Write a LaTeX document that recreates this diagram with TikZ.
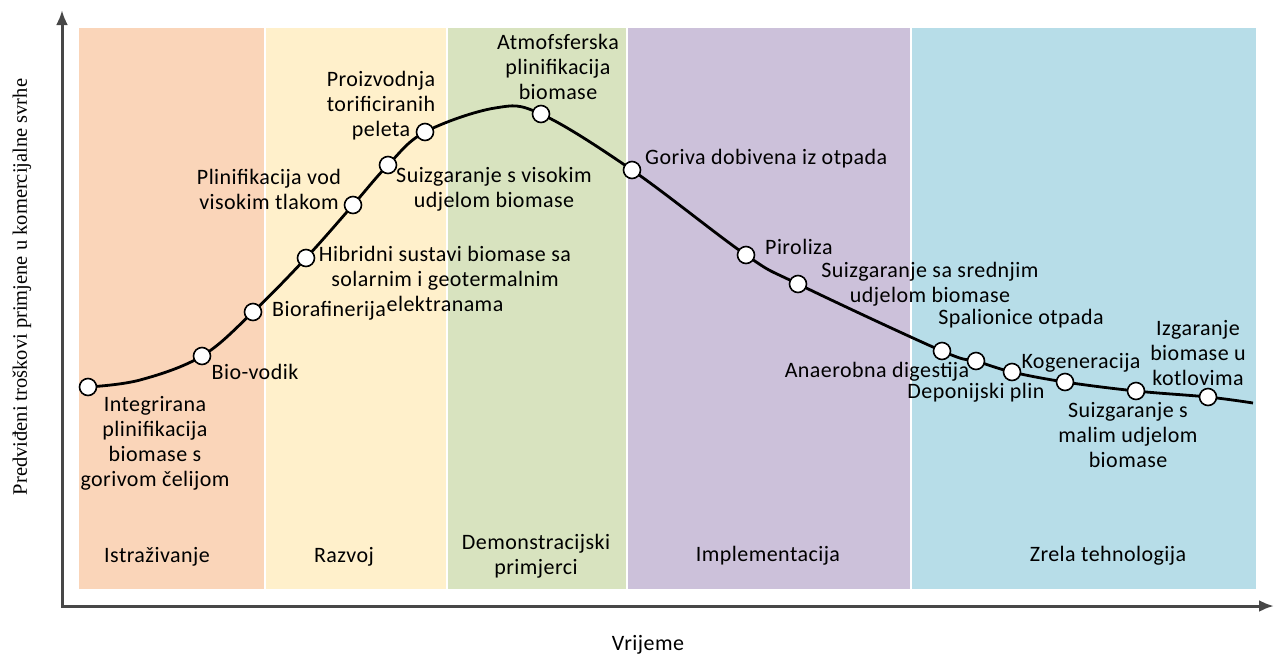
\documentclass[tikz,border=0pt]{standalone}
\usepackage{fontspec}
\setmainfont{Carlito}[LetterSpace=2]
\newfontfamily\axisfont{Liberation Serif}
\usepackage{tikz}
\usetikzlibrary{arrows.meta}

\definecolor{istrcol}{HTML}{FAD5B9}
\definecolor{razvcol}{HTML}{FFF0CB}
\definecolor{democol}{HTML}{D8E3BF}
\definecolor{implcol}{HTML}{CCC1DA}
\definecolor{zrelcol}{HTML}{B7DDE8}

\begin{document}
\begin{tikzpicture}[x=1pt,y=-1pt,
    lbl/.style={font=\fontsize{22}{25}\selectfont,align=center,inner sep=0pt},
    pt/.style={circle,draw,fill=white,line width=1.6pt,minimum size=17pt,inner sep=0pt},
    band/.style={draw=white,line width=2pt},
    curve/.style={line width=2.8pt},
    axis/.style={line width=3pt,draw=black!72,{Latex[length=15pt,width=12pt]}-{Latex[length=15pt,width=12pt]}}]

    \useasboundingbox (0,0) rectangle (1274,657);

    \filldraw[band,fill=istrcol] (78,27) rectangle (265,590);
    \filldraw[band,fill=razvcol] (265,27) rectangle (447,590);
    \filldraw[band,fill=democol] (447,27) rectangle (627,590);
    \filldraw[band,fill=implcol] (627,27) rectangle (911,590);
    \filldraw[band,fill=zrelcol] (911,27) rectangle (1257,590);

    \node[lbl] (istr) at (157,557) {Istraživanje};
    \node[lbl] (razv) at (344,557) {Razvoj};
    \node[lbl] (demo) at (536,556) {Demonstracijski\\primjerci};
    \node[lbl] (impl) at (768,556) {Implementacija};
    \node[lbl] (zrel) at (1108,556) {Zrela tehnologija};

    \coordinate (ytop) at (62,10);
    \coordinate (o) at (62,606);
    \coordinate (xend) at (1274,606);
    \draw[axis] (ytop) -- (o) -- (xend);

    \node[lbl] (vrij) at (648,645) {Vrijeme};
    \node[rotate=90,inner sep=0pt,font=\axisfont\fontsize{20.5}{22}\selectfont] (ylab) at (22,287)
        {Predviđeni troškovi primjene u komercijalne svrhe};

    \coordinate (c1) at (88,387);
    \coordinate (c2) at (202,356);
    \coordinate (c3) at (253,312);
    \coordinate (c4) at (306,258);
    \coordinate (c5) at (353,205);
    \coordinate (c6) at (388,165);
    \coordinate (c7) at (425,132);
    \coordinate (c8) at (541,114);
    \coordinate (c9) at (632,170);
    \coordinate (c10) at (746,255);
    \coordinate (c11) at (798,284);
    \coordinate (c12) at (942,351);
    \coordinate (c13) at (976,361);
    \coordinate (c14) at (1012,372);
    \coordinate (c15) at (1065,382);
    \coordinate (c16) at (1136,391);
    \coordinate (c17) at (1208,397);
    \coordinate (a1) at (140,380);
    \coordinate (top) at (495,108);
    \coordinate (cend) at (1253,403);

    \draw[curve] plot[smooth,tension=0.6] coordinates {(c1) (a1) (c2) (c3) (c4) (c5) (c6) (c7) (top) (c8)
        (c9) (c10) (c11) (c12) (c13) (c14) (c15) (c16) (c17) (cend)};

    \foreach \i in {1,...,17}
        \node[pt] (p\i) at (c\i) {};

    \node[lbl] (integr) at (155,443) {Integrirana\\plinifikacija\\biomase s\\gorivom čelijom};
    \node[lbl] (biovod) at (255,372) {Bio-vodik};
    \node[lbl,anchor=west] (biorafin) at (272,311) {Biorafinerija};
    \node[lbl] (hibrid) at (445,279) {Hibridni sustavi biomase sa\\solarnim i geotermalnim\\elektranama};
    \node[lbl] (plinvod) at (269,189) {Plinifikacija vod\\visokim tlakom};
    \node[lbl] (suizvis) at (494,189) {Suizgaranje s visokim\\udjelom biomase};
    \node[lbl] (proizv) at (381,106) {Proizvodnja\\torificiranih\\peleta};
    \node[lbl] (atmos) at (558,67) {Atmofsferska\\plinifikacija\\biomase};
    \node[lbl,anchor=west] (goriva) at (645,159) {Goriva dobivena iz otpada};
    \node[lbl,anchor=west] (piroliza) at (765,247) {Piroliza};
    \node[lbl] (suizsred) at (930,284) {Suizgaranje sa srednjim\\udjelom biomase};
    \node[lbl] (spal) at (1021,319) {Spalionice otpada};
    \node[lbl] (anaer) at (877,372) {Anaerobna digestija};
    \node[lbl] (depon) at (976,393) {Deponijski plin};
    \node[lbl] (kogen) at (1081,363) {Kogeneracija};
    \node[lbl] (izgar) at (1198,353) {Izgaranje\\biomase u\\kotlovima};
    \node[lbl] (suizmal) at (1128,435) {Suizgaranje s\\malim udjelom\\biomase};
\end{tikzpicture}
\end{document}
